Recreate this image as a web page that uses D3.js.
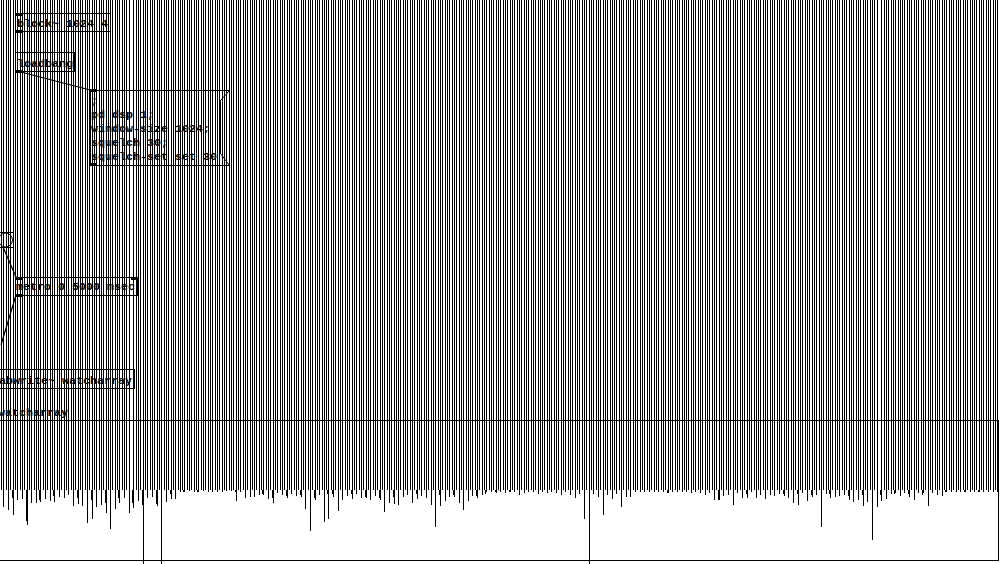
<!DOCTYPE html>
<html><head><meta charset="utf-8"><script src="https://cdn.jsdelivr.net/npm/d3@7"></script>
<style>html,body{margin:0;padding:0;background:#fff}svg{display:block}</style></head><body><div id="c"></div>
<script>
const spikeValues = [
17,20,25,10,9,35,13,13,12,9,11,12,7,8,5,16,14,16,33,29,17,15,23,39,19,13,8,23,18,11,74,8,7,16,74,12,9,9,2,2,1,2,2,1,2,2,2,2,1,1,11,2,8,7,
7,5,5,9,13,3,5,8,4,6,7,19,41,10,5,32,29,7,21,10,6,9,4,8,8,10,6,10,22,13,14,15,7,5,13,9,6,8,15,37,16,11,7,7,13,20,11,6,8,5,2,2,3,
2,3,2,2,5,3,2,2,4,2,3,2,3,5,2,5,8,4,29,74,4,7,25,5,9,4,17,7,7,2,2,2,2,2,2,2,3,2,2,2,2,3,2,3,5,3,10,10,6,5,15,3,8,8,
2,
8,5,9,5,6,4,6,8,13,15,3,11,7,5,37,4,8,7,6,5,10,12,10,16,12,50,17,11,9,4,3,6,3,7,10,3,3,16,3,5,6,2,2,2,2,2,2,2,2,2,2,2,2
];
const shoulderIndex = [2,5,8,11,16,19,22,25,28,30,33,36,39,42,50,56,58,61,64,67,70,71,75,78,81,84,89,94,97,102,104,106,109,143,154,160,168,171,174,178,182,185,189,192,195,198,203,207,210];
const shoulderValues = [8,31,10,6,8,10,13,8,13,15,14,4,2,2,2,4,8,6,5,8,4,4,4,7,8,7,4,5,5,6,4,2,2,3,10,4,4,4,5,4,6,5,5,4,4,5,2,2,2];
const midGaps = [28,189];
const boxes = [
 {x:15,y:13,w:95,h:18,nubs:["tl","bl"]},
 {x:15,y:52,w:59,h:19,nubs:["bl"]},
 {x:15,y:277,w:122,h:18,nubs:["tl","tr","bl"]},
 {x:-20,y:369,w:154,h:19,nubs:[]}
];
const labels = [
 {x:17,y:27,t:"block~ 1024 4"},
 {x:17,y:67,t:"loadbang"},
 {x:91,y:104,t:";"},
 {x:91,y:118,t:"pd dsp 1;"},
 {x:91,y:132,t:"window-size 1024;"},
 {x:91,y:146,t:"squelch 30;"},
 {x:91,y:160,t:"squelch-set set 30"},
 {x:16,y:290,t:"metro 0 5000 msec"},
 {x:-8,y:384,t:"tabwrite~ watcharray"},
 {x:-2,y:416,t:"watcharray"}
];
const wires=[[17,71,90,90],[3,247,16,277],[16,295,1,345]];
const W=1005,H=564,plotRight=998,plotBottom=560,axisY=420,baseY=490;
const svg=d3.select("#c").append("svg").attr("width",W).attr("height",H).attr("shape-rendering","crispEdges");
const x=d3.scaleLinear().domain([0,430]).range([1,999.7]);
const y=d3.scaleLinear().domain([0,70]).range([baseY,plotBottom]);
const col=j=>Math.round(x(j));
const mids=d3.range(0,430,2).filter(j=>!midGaps.includes(j/2));
const vline=(g,data,fx,fy,top)=>g.selectAll("line").data(data).join("line")
 .attr("x1",d=>fx(d)+.5).attr("x2",d=>fx(d)+.5).attr("y1",top).attr("y2",fy).attr("stroke","#000");
vline(svg.append("g"),mids,col,baseY,0);
vline(svg.append("g"),spikeValues.map((v,i)=>({v,i})),d=>col(2*d.i+1),d=>y(d.v),0);
vline(svg.append("g"),shoulderIndex.map((i,k)=>({i,v:shoulderValues[k]})),d=>col(2*d.i+1)-1,d=>y(d.v),baseY);
const hl=(x1,y1,x2,y2,sw)=>svg.append("line").attr("x1",x1).attr("y1",y1).attr("x2",x2).attr("y2",y2).attr("stroke","#000").attr("stroke-width",sw||1);
hl(0,axisY+.5,plotRight+1,axisY+.5);
hl(0,plotBottom+.5,plotRight+1,plotBottom+.5);
hl(plotRight+.5,axisY,plotRight+.5,plotBottom+1);
const g=svg.append("g");
boxes.forEach(b=>{
 g.append("rect").attr("x",b.x+.5).attr("y",b.y+.5).attr("width",b.w).attr("height",b.h).attr("fill","none").attr("stroke","#000");
 b.nubs.forEach(n=>g.append("rect").attr("x",n=="tr"?b.x+b.w-6:b.x).attr("y",n[0]=="t"?b.y:b.y+b.h-1).attr("width",7).attr("height",3).attr("fill","#000"));
});
const m=svg.append("g").attr("fill","none").attr("stroke","#000");
m.append("path").attr("d","M90.5 90.5H229.5L220.5 100.5V153.5L229.5 165.5H90.5Z").attr("shape-rendering","auto");
m.append("rect").attr("x",219).attr("y",100).attr("width",2).attr("height",54).attr("fill","#000").attr("stroke","none");
m.append("rect").attr("x",89).attr("y",90).attr("width",2).attr("height",76).attr("fill","#000").attr("stroke","none");
m.append("rect").attr("x",89).attr("y",89).attr("width",8).attr("height",3).attr("fill","#000").attr("stroke","none");
m.append("rect").attr("x",89).attr("y",163).attr("width",8).attr("height",3).attr("fill","#000").attr("stroke","none");
const bang=svg.append("g").attr("fill","none").attr("stroke","#000");
bang.append("rect").attr("x",-2.5).attr("y",232.5).attr("width",16).attr("height",15);
bang.append("circle").attr("cx",5.5).attr("cy",240).attr("r",7).attr("shape-rendering","auto");
svg.append("g").selectAll("line").data(wires).join("line").attr("x1",d=>d[0]).attr("y1",d=>d[1]).attr("x2",d=>d[2]).attr("y2",d=>d[3]).attr("stroke","#000").attr("stroke-width",1.2).attr("shape-rendering","auto");
svg.append("g").selectAll("text").data(labels).join("text").attr("x",d=>d.x).attr("y",d=>d.y)
 .attr("font-family","'Liberation Mono',monospace").attr("font-weight","bold").attr("font-size",11.67).attr("fill","#000").text(d=>d.t);
</script></body></html>
